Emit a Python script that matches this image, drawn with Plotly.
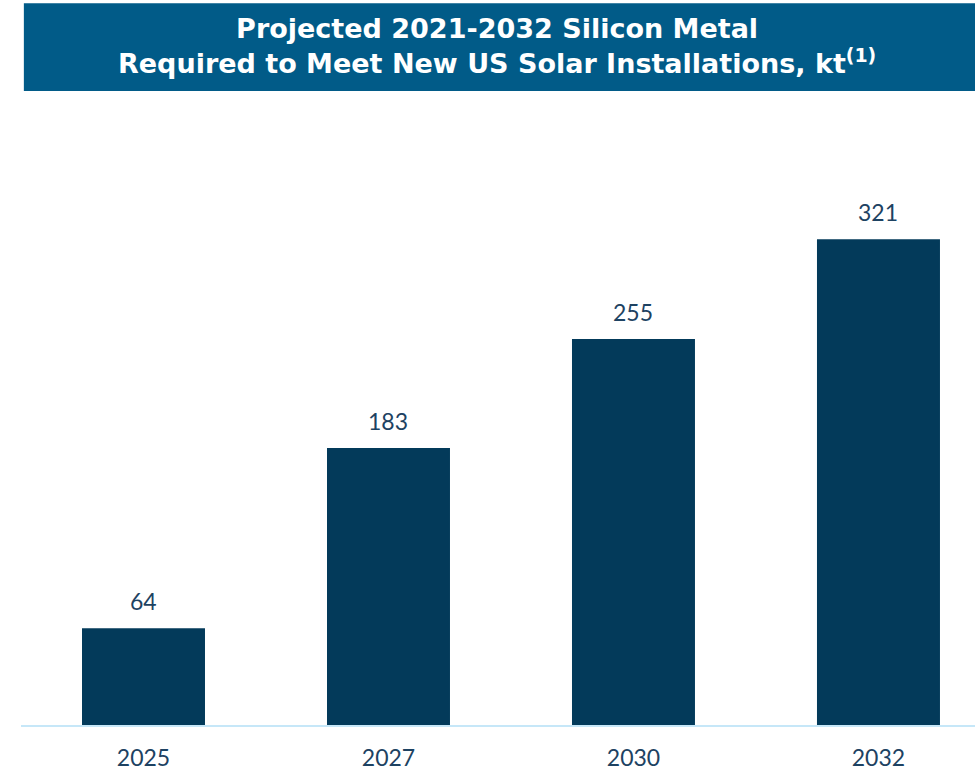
import plotly.graph_objects as go

YEARS = ["2025", "2027", "2030", "2032"]
SILICON_KT = [64, 183, 255, 321]

BAR = "#033a5a"
BANNER = "#015b88"
LABEL = "#1d4262"
AXIS = "#c6e7f8"
FONT = "Lato, 'DejaVu Sans', sans-serif"
TITLE_FONT = "'DejaVu Sans', sans-serif"

fig = go.Figure(go.Bar(
    x=YEARS, y=SILICON_KT, width=0.502,
    marker=dict(color=BAR, line=dict(width=0)),
    hoverinfo="skip",
))

# value labels sit a little above each bar (x by category index)
for i, v in enumerate(SILICON_KT):
    fig.add_annotation(x=i, y=v, text=str(v), showarrow=False,
                       xanchor="center", yanchor="bottom", yshift=11,
                       font=dict(family=FONT, size=23, color=LABEL))

# title banner
fig.add_shape(type="rect", xref="paper", yref="paper",
              x0=0.003, x1=1.0, y0=1.0144, y1=1.155,
              fillcolor=BANNER, line=dict(width=0), layer="below")
fig.add_annotation(
    xref="paper", yref="paper", x=0.499, y=1.0864, showarrow=False,
    xanchor="center", yanchor="middle",
    text="<b>Projected 2021-2032 Silicon Metal</b><br>"
         "<b>Required to Meet New US Solar Installations, kt<sup>(1)</sup></b>",
    font=dict(family=TITLE_FONT, size=27, color="white"), align="center",
)

fig.update_layout(
    width=975, height=771,
    paper_bgcolor="white", plot_bgcolor="white",
    margin=dict(t=100, r=0, b=46, l=21),
    showlegend=False,
    xaxis=dict(type="category", range=[-0.5, 3.394], showline=True,
               linecolor=AXIS, linewidth=2, showgrid=False, zeroline=False,
               automargin=False, ticks="", ticklabelstandoff=11,
               tickfont=dict(family=FONT, size=23, color=LABEL)),
    yaxis=dict(range=[0, 413], visible=False, automargin=False),
)

fig.write_html("out.html", config={"displayModeBar": False},
               post_script="document.body.style.margin='0';")
